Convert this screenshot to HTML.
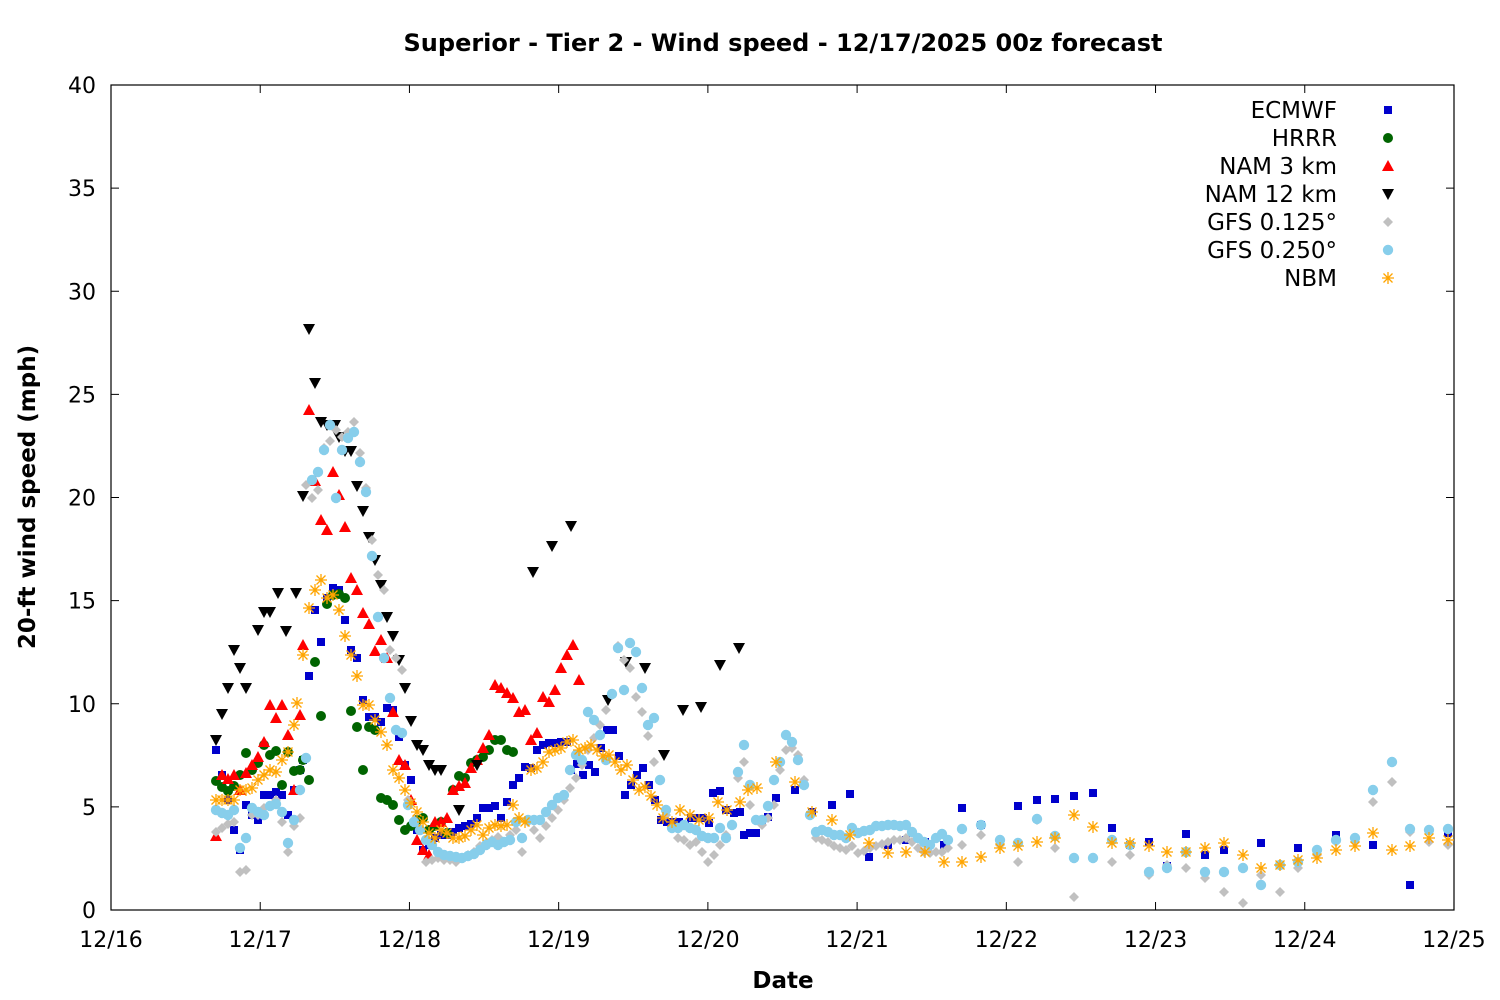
<!DOCTYPE html>
<html><head><meta charset="utf-8"><style>
html,body{margin:0;padding:0;background:#fff;}
svg{display:block;font-family:"Liberation Sans","DejaVu Sans",sans-serif;}
</style></head><body>
<svg id="s" width="1500" height="1000" viewBox="0 0 1500 1000" xmlns="http://www.w3.org/2000/svg">
<rect width="1500" height="1000" fill="#fff"/>
<text x="783" y="51" font-size="24" font-weight="bold" text-anchor="middle" font-family="DejaVu Sans, sans-serif">Superior - Tier 2 - Wind speed - 12/17/2025 00z forecast</text>
<text transform="translate(35,497) rotate(-90)" font-size="23" font-weight="bold" text-anchor="middle" font-family="DejaVu Sans, sans-serif">20-ft wind speed (mph)</text>
<text x="783" y="988" font-size="23" font-weight="bold" text-anchor="middle" font-family="DejaVu Sans, sans-serif">Date</text>
<g id="axes" stroke="#000" stroke-width="1.2" fill="none"><rect x="111" y="85" width="1343" height="825"/></g>
<g id="ticks" font-size="22" font-family="DejaVu Sans, sans-serif"></g>
<g id="pts"></g>
<g id="leg" font-size="23" font-family="DejaVu Sans, sans-serif" text-anchor="end"></g>
</svg>
<script>
var NS="http://www.w3.org/2000/svg";
function el(p,t,a,txt){var e=document.createElementNS(NS,t);for(var k in a)e.setAttribute(k,a[k]);if(txt!=null)e.textContent=txt;p.appendChild(e);return e;}
var tk=document.getElementById('ticks');
for(var v=0;v<=40;v+=5){var y=910-v*20.625;
el(tk,'line',{x1:111,y1:y,x2:119,y2:y,stroke:'#000'});el(tk,'line',{x1:1446,y1:y,x2:1454,y2:y,stroke:'#000'});
el(tk,'text',{x:96,y:y+8,'text-anchor':'end'},String(v));}
var dates=['12/16','12/17','12/18','12/19','12/20','12/21','12/22','12/23','12/24','12/25'];
for(var i=0;i<10;i++){var x=111+i*149.22;
el(tk,'line',{x1:x,y1:910,x2:x,y2:902,stroke:'#000'});el(tk,'line',{x1:x,y1:85,x2:x,y2:93,stroke:'#000'});
el(tk,'text',{x:x,y:947,'text-anchor':'middle'},dates[i]);}
function P(s){var a=s.match(/-?\d+/g).map(Number),r=[];for(var i=0;i<a.length;i+=2)r.push([a[i],a[i+1]]);return r;}
var E=P("(216,750),(222,775),(228,800),(234,830),(240,850),(246,805),(252,815),(258,820),(264,795),(270,795),(276,792),(282,795),(288,815),(294,790),(300,770),(303,760),(309,676),(315,610),(321,642),(327,598),(333,588),(339,590),(345,620),(351,650),(357,658),(363,700),(369,717),(375,717),(381,722),(387,708),(393,710),(399,737),(405,765),(411,780),(417,830),(423,850),(429,845),(435,838),(441,835),(447,835),(453,832),(459,828),(465,826),(471,824),(477,818),(483,808),(489,808),(495,806),(501,818),(507,802),(513,785),(519,778),(525,767),(531,768),(537,750),(543,745),(549,743),(555,743),(561,742),(567,742),(571,770),(577,764),(583,775),(589,765),(595,772),(601,748),(607,730),(613,730),(619,756),(625,795),(631,785),(637,775),(643,768),(649,785),(655,800),(661,820),(667,822),(673,822),(679,822),(685,825),(691,818),(697,818),(703,818),(709,823),(713,793),(720,791),(726,810),(734,813),(740,812),(744,835),(750,833),(756,833),(762,820),(768,817),(776,798),(795,790),(812,812),(832,805),(850,794),(869,857),(888,845),(906,840),(925,842),(944,845),(962,808),(981,825),(1018,806),(1037,800),(1055,799),(1074,796),(1093,793),(1112,828),(1130,845),(1149,842),(1167,866),(1186,834),(1205,855),(1224,850),(1261,843),(1298,848),(1336,835),(1373,845),(1410,885),(1448,833)");
var H=P("(216,781),(222,787),(228,791),(234,786),(240,775),(246,753),(252,770),(258,763),(264,745),(270,755),(276,751),(282,785),(288,752),(294,771),(300,770),(303,760),(309,780),(315,662),(321,716),(327,604),(333,595),(339,594),(345,598),(351,711),(357,727),(363,770),(369,727),(375,730),(381,798),(387,800),(393,805),(399,820),(405,830),(411,826),(417,820),(423,818),(429,830),(435,826),(441,822),(447,833),(453,790),(459,776),(465,778),(471,763),(477,760),(483,757),(489,750),(495,740),(501,740),(507,750),(513,752)");
var N3=P("(216,836),(222,775),(228,779),(234,775),(240,790),(246,773),(252,765),(258,757),(264,742),(270,705),(276,718),(282,705),(288,735),(294,790),(300,715),(303,645),(309,410),(315,481),(321,520),(327,530),(333,472),(339,495),(345,527),(351,578),(357,590),(363,613),(369,624),(375,651),(381,640),(387,658),(393,712),(399,760),(405,765),(411,800),(417,840),(423,850),(429,855),(435,822),(441,822),(447,818),(453,790),(459,786),(465,783),(471,768),(477,760),(483,748),(489,735),(495,685),(501,688),(507,693),(513,698),(519,712),(525,710),(531,740),(537,733),(543,697),(549,702),(555,690),(561,668),(567,655),(573,645),(579,680)");
var N12=P("(216,740),(222,714),(228,688),(234,650),(240,668),(246,688),(258,630),(264,612),(270,612),(278,593),(286,631),(296,593),(303,496),(309,329),(315,383),(321,422),(327,425),(335,425),(339,437),(345,451),(351,451),(357,486),(363,511),(369,537),(375,560),(381,585),(387,617),(393,636),(399,660),(405,688),(411,721),(417,745),(423,750),(429,765),(435,770),(441,770),(459,810),(477,765),(533,572),(552,546),(571,526),(608,700),(626,662),(645,668),(664,755),(683,710),(701,707),(720,665),(739,648)");
var G1=P("(216,832),(222,828),(228,824),(234,822),(240,872),(246,870),(252,815),(258,815),(264,808),(270,806),(276,800),(282,822),(288,852),(294,826),(300,818),(306,485),(312,498),(318,490),(324,448),(330,441),(336,430),(342,437),(348,432),(354,422),(360,453),(366,488),(372,540),(378,575),(384,590),(390,650),(396,658),(402,670),(408,800),(414,820),(420,830),(426,862),(432,860),(438,858),(444,860),(450,860),(456,862),(462,858),(468,855),(474,852),(480,846),(486,843),(492,840),(498,837),(504,842),(510,835),(516,830),(522,852),(528,822),(534,830),(540,838),(546,826),(552,818),(558,810),(564,800),(570,788),(576,778),(582,765),(588,750),(594,738),(600,725),(606,710),(612,695),(618,646),(624,660),(630,668),(636,697),(642,712),(648,736),(654,762),(660,780),(666,815),(672,828),(678,838),(684,840),(690,845),(696,842),(702,852),(708,862),(714,855),(720,845),(726,835),(732,825),(738,778),(744,762),(750,805),(756,820),(762,825),(768,818),(774,805),(780,770),(786,750),(792,748),(798,755),(804,780),(810,815),(816,838),(822,840),(828,842),(834,846),(840,848),(846,850),(852,846),(858,853),(864,851),(870,848),(876,846),(882,844),(888,842),(894,840),(900,840),(906,838),(912,842),(918,848),(924,852),(930,853),(936,852),(942,852),(948,848),(962,845),(981,835),(1000,845),(1018,862),(1037,820),(1055,848),(1074,897),(1093,858),(1112,862),(1130,855),(1149,875),(1167,865),(1186,868),(1205,878),(1224,892),(1243,903),(1261,875),(1280,892),(1298,868),(1317,855),(1336,842),(1355,842),(1373,802),(1392,782),(1410,832),(1429,842),(1448,845)");
var G2=P("(216,810),(222,813),(228,815),(234,810),(240,848),(246,838),(252,808),(258,812),(264,815),(270,806),(276,804),(282,812),(288,843),(294,820),(300,790),(306,758),(312,480),(318,472),(324,450),(330,425),(336,498),(342,450),(348,438),(354,432),(360,462),(366,492),(372,556),(378,617),(384,658),(390,698),(396,730),(402,733),(408,805),(414,822),(420,830),(426,840),(432,845),(438,852),(444,855),(450,856),(456,857),(462,858),(468,856),(474,854),(480,850),(486,845),(492,842),(498,845),(504,842),(510,840),(516,822),(522,838),(528,820),(534,820),(540,820),(546,812),(552,805),(558,798),(564,795),(570,770),(576,755),(582,760),(588,712),(594,720),(600,735),(606,760),(612,694),(618,648),(624,690),(630,643),(636,652),(642,688),(648,725),(654,718),(660,780),(666,810),(672,828),(678,828),(684,825),(690,828),(696,830),(702,836),(708,838),(714,838),(720,828),(726,838),(732,825),(738,772),(744,745),(750,785),(756,820),(762,820),(768,806),(774,780),(780,762),(786,735),(792,742),(798,760),(804,785),(810,815),(816,832),(822,830),(828,832),(834,835),(840,835),(846,838),(852,828),(858,833),(864,831),(870,830),(876,826),(882,826),(888,825),(894,825),(900,826),(906,825),(912,832),(918,838),(924,842),(930,845),(936,838),(942,834),(948,840),(962,829),(981,825),(1000,840),(1018,843),(1037,819),(1055,836),(1074,858),(1093,858),(1112,840),(1130,845),(1149,872),(1167,868),(1186,852),(1205,872),(1224,872),(1243,868),(1261,885),(1280,865),(1298,862),(1317,850),(1336,840),(1355,838),(1373,790),(1392,762),(1410,829),(1429,830),(1448,829)");
var NB=P("(216,800),(222,800),(228,800),(234,800),(240,790),(246,790),(252,788),(258,780),(264,775),(270,770),(276,772),(282,760),(288,752),(294,725),(297,703),(303,655),(309,608),(315,590),(321,580),(327,598),(333,595),(339,610),(345,636),(351,655),(357,676),(363,705),(369,705),(375,720),(381,732),(387,745),(393,770),(399,778),(405,790),(411,803),(417,812),(423,822),(429,833),(435,838),(441,830),(447,833),(453,838),(459,838),(465,836),(471,830),(477,825),(483,835),(489,828),(495,825),(501,826),(507,825),(513,805),(519,818),(525,822),(531,770),(537,768),(543,762),(549,752),(555,750),(561,748),(567,742),(573,740),(579,750),(585,748),(591,745),(597,750),(603,756),(609,755),(615,762),(621,770),(627,765),(633,780),(639,790),(645,787),(651,796),(657,805),(663,818),(672,822),(680,810),(690,815),(699,820),(709,818),(718,802),(727,810),(740,802),(748,790),(757,788),(776,762),(795,782),(812,812),(832,820),(850,835),(869,843),(888,853),(906,852),(925,852),(944,862),(962,862),(981,857),(1000,848),(1018,846),(1037,842),(1055,838),(1074,815),(1093,827),(1112,843),(1130,843),(1149,846),(1167,852),(1186,852),(1205,848),(1224,843),(1243,855),(1261,868),(1280,865),(1298,860),(1317,858),(1336,850),(1355,846),(1373,833),(1392,850),(1410,846),(1429,838),(1448,840)");
var g=document.getElementById('pts');
function mk(p,type,x,y,c){
 if(type=='sq')el(p,'rect',{x:x-4,y:y-4,width:8,height:8,fill:c});
 else if(type=='ci')el(p,'circle',{cx:x,cy:y,r:5,fill:c});
 else if(type=='up')el(p,'polygon',{points:(x-6)+','+(y+5)+' '+(x+6)+','+(y+5)+' '+x+','+(y-6),fill:c});
 else if(type=='dn')el(p,'polygon',{points:(x-6)+','+(y-5)+' '+(x+6)+','+(y-5)+' '+x+','+(y+6),fill:c});
 else if(type=='di')el(p,'polygon',{points:x+','+(y-5)+' '+(x+5)+','+y+' '+x+','+(y+5)+' '+(x-5)+','+y,fill:c});
 else if(type=='hx')el(p,'circle',{cx:x,cy:y,r:5.2,fill:c});
 else if(type=='st'){var d='M'+(x-6)+' '+y+'h12M'+x+' '+(y-6)+'v12M'+(x-4.5)+' '+(y-4.5)+'l9 9M'+(x-4.5)+' '+(y+4.5)+'l9 -9';el(p,'path',{d:d,stroke:c,'stroke-width':1.3,fill:'none'});}
}
var S=[['ECMWF','sq','#0000cc',E],['HRRR','ci','#006400',H],['NAM 3 km','up','#ff0000',N3],['NAM 12 km','dn','#000000',N12],['GFS 0.125°','di','#c0c0c0',G1],['GFS 0.250°','hx','#87ceeb',G2],['NBM','st','#ffa500',NB]];
var lg=document.getElementById('leg');
S.forEach(function(s,i){s[3].forEach(function(q){mk(g,s[1],q[0],q[1],s[2]);});
 var y=110+i*28;el(lg,'text',{x:1337,y:y+8},s[0]);mk(lg,s[1],1388,y,s[2]);});
</script>
</body></html>
